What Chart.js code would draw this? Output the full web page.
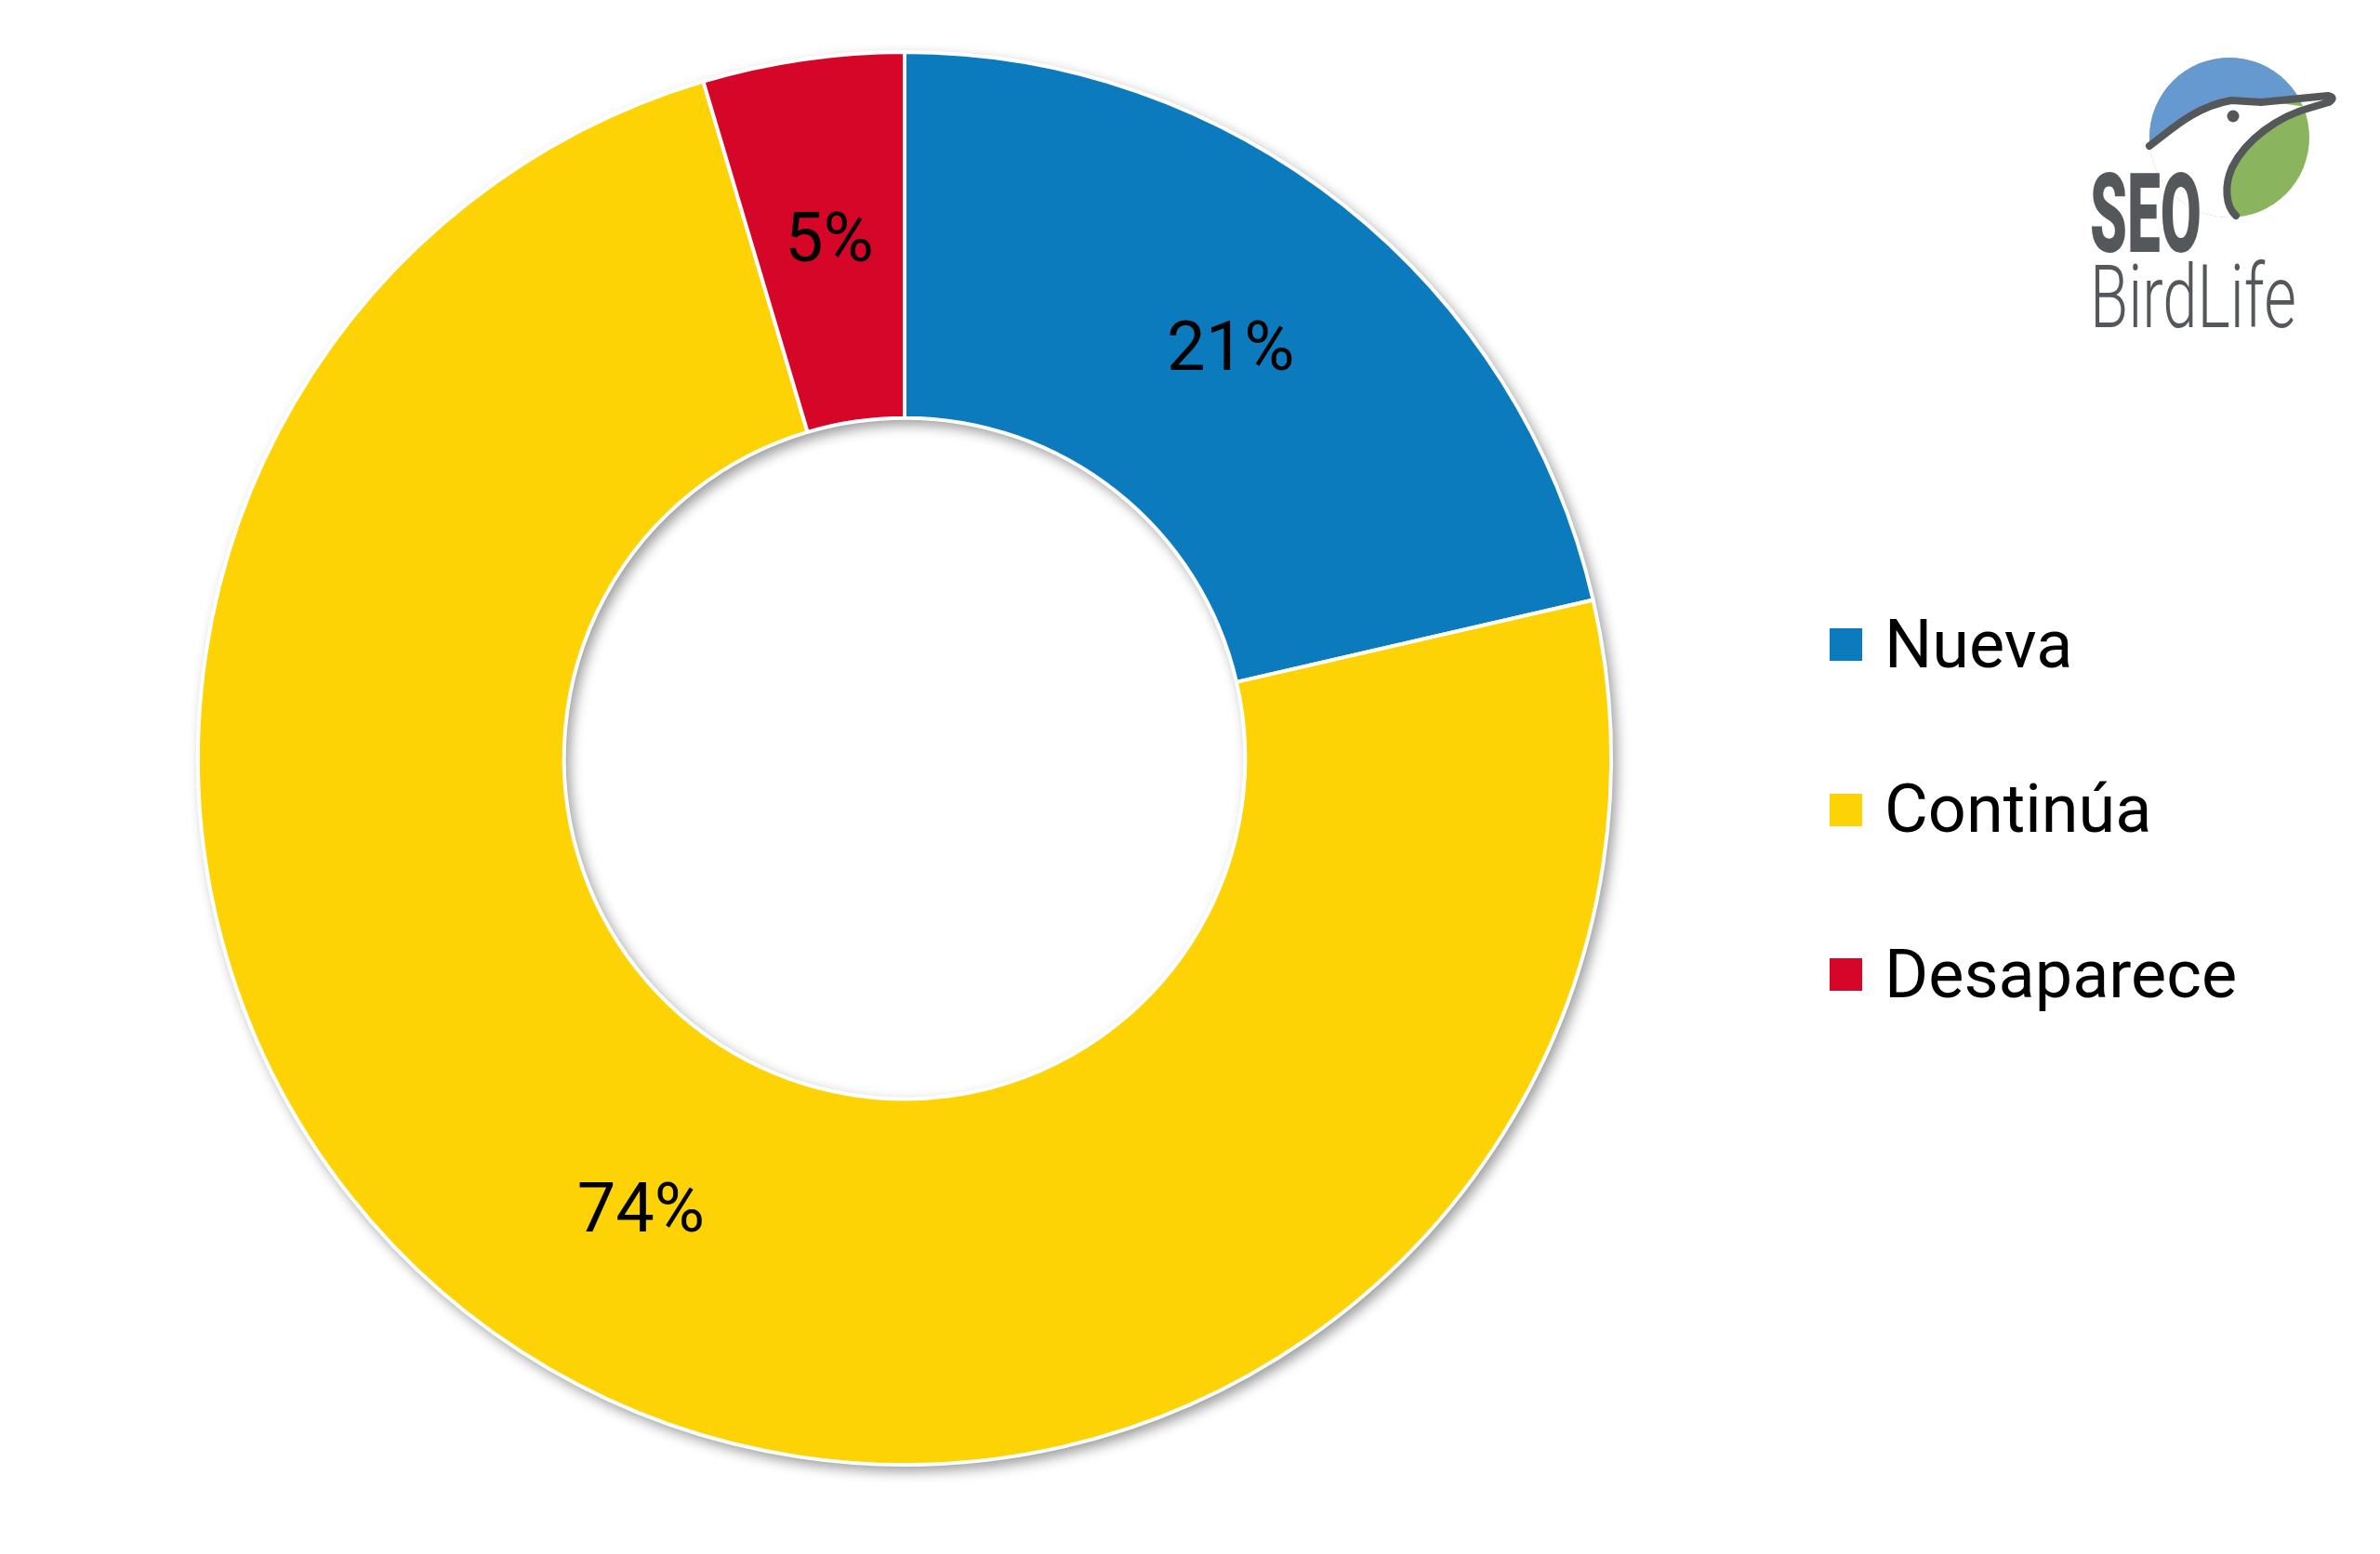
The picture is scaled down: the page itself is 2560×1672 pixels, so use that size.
<!DOCTYPE html>
<html lang="es">
<head>
    <meta charset="UTF-8">
    <title>Nueva / Continúa / Desaparece</title>
    <style>
        html, body {
            margin: 0;
            padding: 0;
            background: #ffffff;
        }
        body {
            width: 2560px;
            height: 1672px;
            position: relative;
            overflow: hidden;
            font-family: Roboto, Arial, sans-serif;
        }
        .chart-box {
            position: absolute;
            left: 0;
            top: 0;
            width: 1946px;
            height: 1632px;
        }
        .legend {
            position: absolute;
            left: 1968px;
            top: 676px;
        }
        .legend-item {
            position: absolute;
            left: 0;
            height: 35px;
            display: flex;
            align-items: center;
            white-space: nowrap;
        }
        .legend-box {
            width: 35px;
            height: 35px;
            margin-right: 24px;
        }
        .legend-text {
            font-size: 72px;
            line-height: 72px;
            color: #000;
        }
        .logo {
            position: absolute;
            left: 2200px;
            top: 0;
        }
    </style>
</head>
<body>
    <div class="chart-box">
        <canvas id="donut"></canvas>
    </div>
    <div class="legend" id="legend"></div>

    <svg class="logo" width="360" height="400" viewBox="0 0 360 400">
        <defs>
            <clipPath id="disc">
                <circle cx="198" cy="148" r="86"></circle>
            </clipPath>
        </defs>
        <circle cx="198" cy="148" r="86" fill="#8ab55e"></circle>
        <g clip-path="url(#disc)">
            <path d="M112,155 C135,140 160,115 200,108 L232,108 L330,98 L330,40 L90,40 L90,160 Z" fill="#6699cf"></path>
            <path d="M112,155 C135,140 160,115 200,108 L232,108 L288,116 C250,125 216,150 201,180 C192,200 194,222 205,232 L205,270 L80,270 L80,158 Z" fill="#ffffff"></path>
        </g>
        <path d="M112,157 C135,140 160,115 200,108 L232,110 L304,103 Q313,105 305,110 L288,115 C250,125 216,150 201,180 C192,200 194,222 205,232"
              fill="none" stroke="#55585b" stroke-width="8" stroke-linecap="round" stroke-linejoin="round"></path>
        <circle cx="202" cy="125" r="6.5" fill="#55585b"></circle>
        <text x="48" y="271" font-family="Roboto, sans-serif" font-weight="900" font-size="118"
              textLength="120" lengthAdjust="spacingAndGlyphs" fill="#55585b">SEO</text>
        <text x="48" y="352" font-family="Roboto, sans-serif" font-weight="300" font-size="94"
              textLength="222" lengthAdjust="spacingAndGlyphs" fill="#55585b">BirdLife</text>
    </svg>

    <script src="https://cdn.jsdelivr.net/npm/chart.js"></script>
    <script>
        const categories = ['Nueva', 'Continúa', 'Desaparece'];
        const shares = [21.4, 74.0, 4.6];
        const sliceColors = ['#0b7bbe', '#fdd305', '#d60628'];

        // soft drop shadow under the whole ring, drawn once so it never falls across slices
        const ringShadow = {
            id: 'ringShadow',
            beforeDatasetsDraw(chart) {
                const arc = chart.getDatasetMeta(0).data[0];
                if (!arc) return;
                const { x, y, innerRadius, outerRadius } = arc.getProps(['x', 'y', 'innerRadius', 'outerRadius'], true);
                const ctx = chart.ctx;
                ctx.save();
                ctx.shadowColor = 'rgba(0, 0, 0, 0.4)';
                ctx.shadowBlur = 14;
                ctx.shadowOffsetX = 5;
                ctx.shadowOffsetY = 6;
                ctx.fillStyle = '#ffffff';
                ctx.beginPath();
                ctx.arc(x, y, outerRadius + 1, 0, Math.PI * 2);
                ctx.arc(x, y, innerRadius - 1, 0, Math.PI * 2, true);
                ctx.fill('evenodd');
                ctx.restore();
            }
        };

        // percentage text in the middle of each slice
        const sliceLabels = {
            id: 'sliceLabels',
            afterDatasetsDraw(chart) {
                const ctx = chart.ctx;
                const values = chart.data.datasets[0].data;
                ctx.save();
                ctx.font = '74px Roboto, Arial, sans-serif';
                ctx.fillStyle = '#000000';
                ctx.textAlign = 'center';
                ctx.textBaseline = 'middle';
                chart.getDatasetMeta(0).data.forEach((arc, i) => {
                    const p = arc.getCenterPoint();
                    ctx.fillText(Math.round(values[i]) + '%', p.x, p.y + 4);
                });
                ctx.restore();
            }
        };

        document.addEventListener('DOMContentLoaded', () => {
            const ctx = document.getElementById('donut').getContext('2d');
            new Chart(ctx, {
                type: 'doughnut',
                data: {
                    labels: categories,
                    datasets: [{
                        data: shares,
                        backgroundColor: sliceColors,
                        borderColor: '#ffffff',
                        borderWidth: 4,
                        radius: 760,
                        cutout: '48.2%'
                    }]
                },
                options: {
                    responsive: true,
                    maintainAspectRatio: false,
                    animation: false,
                    layout: { padding: 0 },
                    plugins: {
                        legend: { display: false },
                        tooltip: { enabled: false }
                    }
                },
                plugins: [ringShadow, sliceLabels]
            });

            // legend on the right, built from the same arrays
            const legend = document.getElementById('legend');
            categories.forEach((name, i) => {
                const item = document.createElement('div');
                item.className = 'legend-item';
                item.style.top = (i * 177.5) + 'px';
                item.innerHTML = '<span class="legend-box" style="background:' + sliceColors[i] + '"></span>' +
                    '<span class="legend-text">' + name + '</span>';
                legend.appendChild(item);
            });
        });
    </script>
</body>
</html>
